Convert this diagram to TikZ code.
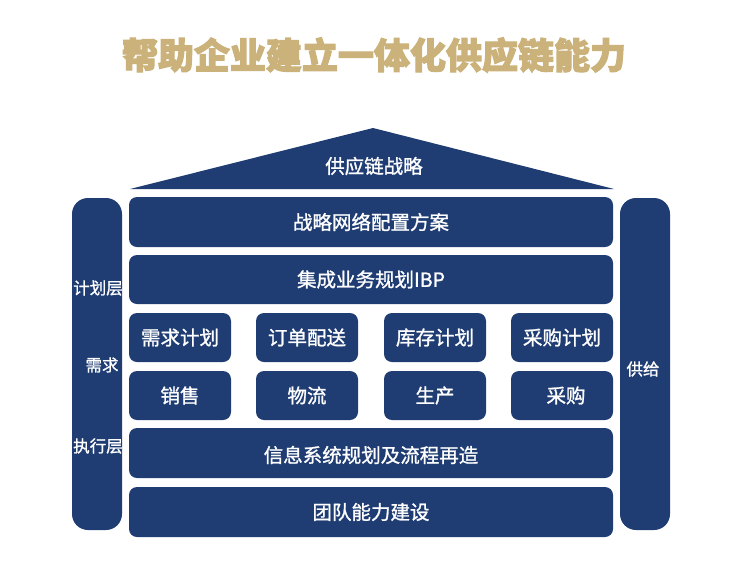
\documentclass[tikz,border=0pt]{standalone}
\usepackage{fontspec}
\newfontfamily\cjk{Noto Sans CJK SC}[FakeBold=1.2]
\newfontfamily\cjkb{Noto Sans CJK SC}[FakeBold=3]
\definecolor{navy}{HTML}{1F3D73}
\definecolor{gold}{HTML}{CBB17A}
\begin{document}
\begin{tikzpicture}[x=1pt,y=-1pt,
  blk/.style={fill=navy,draw=none,rounded corners=8pt},
  pillar/.style={fill=navy,draw=none,rounded corners=16pt},
  txt/.style={text=white,font=\cjk\fontsize{19.5}{22}\selectfont,inner sep=0pt},
  side/.style={text=white,font=\cjk\fontsize{16.5}{18}\selectfont,inner sep=0pt}]
\useasboundingbox (0,0) rectangle (747,563);
% title
\node[text=gold,font=\cjkb\fontsize{36}{40}\selectfont\bfseries,inner sep=0pt] (title) at (374,55) {帮助企业建立一体化供应链能力};
% roof
\fill[navy] (130,189) -- (373,128) -- (614,189) -- cycle;
\node[txt] (roof) at (374,166) {供应链战略};
% pillars
\fill[pillar] (72,198) rectangle (122,530);
\fill[pillar] (620,198) rectangle (670,530);
\node[side] (l1) at (98,288) {计划层};
\node[side] (l2) at (102,365) {需求};
\node[side] (l3) at (98,446) {执行层};
\node[side] (r1) at (643,369) {供给};
% rows
\fill[blk] (129,197) rectangle (613,247);
\node[txt] (a) at (371,222) {战略网络配置方案};
\fill[blk] (129,255) rectangle (613,304);
\node[txt] (b) at (371,279.5) {集成业务规划IBP};
% small boxes
\fill[blk] (129,313) rectangle (231,362);
\fill[blk] (256,313) rectangle (358,362);
\fill[blk] (384,313) rectangle (486,362);
\fill[blk] (511,313) rectangle (613,362);
\node[txt] (c1) at (180,337.5) {需求计划};
\node[txt] (c2) at (307,337.5) {订单配送};
\node[txt] (c3) at (435,337.5) {库存计划};
\node[txt] (c4) at (562,337.5) {采购计划};
\fill[blk] (129,371) rectangle (231,420);
\fill[blk] (256,371) rectangle (358,420);
\fill[blk] (384,371) rectangle (486,420);
\fill[blk] (511,371) rectangle (613,420);
\node[txt] (d1) at (180,395.5) {销售};
\node[txt] (d2) at (307,395.5) {物流};
\node[txt] (d3) at (435,395.5) {生产};
\node[txt] (d4) at (566,395.5) {采购};
\fill[blk] (129,428) rectangle (613,478);
\node[txt] (e) at (371,455) {信息系统规划及流程再造};
\fill[blk] (129,487) rectangle (613,537);
\node[txt] (f) at (371,512) {团队能力建设};
\end{tikzpicture}
\end{document}
